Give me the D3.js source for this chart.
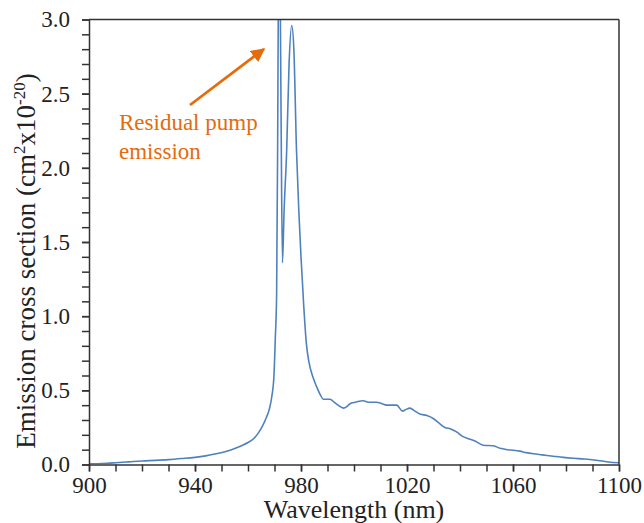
<!DOCTYPE html>
<meta charset="utf-8">
<svg width="644" height="523"></svg>
<script src="https://d3js.org/d3.v7.min.js"></script>
<script>

// wavelength (nm) and emission cross section (x10^-20 cm^2)
var wavelength = [
  900, 905, 910, 915, 920, 925, 930, 935, 940, 944, 948, 952, 955, 958, 960, 962, 964,
  965.5, 967, 968, 969, 969.8, 970.3, 970.8, 971.2, 971.5, 971.8, 972.1, 972.5, 973.0,
  973.6, 974.6, 975.5, 976.5, 977.3, 978.3, 979.2, 980, 981, 982, 983, 984.5, 986,
  987.3, 988.4, 990, 991, 992.5, 994, 996, 997.3, 998.5, 1000.5, 1003.5, 1005.4, 1007,
  1008.5, 1010.5, 1012.3, 1014.5, 1016.1, 1018.3, 1019.5, 1021.1, 1023, 1024.9, 1027.5,
  1029.9, 1032, 1034.3, 1036.5, 1038.7, 1041, 1043.8, 1046, 1048.8, 1052.6, 1055.1,
  1058, 1062.6, 1065, 1067.7, 1071, 1075.2, 1079, 1082.8, 1086, 1089, 1093, 1096, 1100
];
var crossSection = [
  0.005, 0.007, 0.012, 0.018, 0.024, 0.028, 0.033, 0.040, 0.048, 0.058, 0.072, 0.090,
  0.108, 0.130, 0.148, 0.172, 0.215, 0.26, 0.32, 0.37, 0.46, 0.60, 0.85, 1.15, 2.2, 3.3,
  3.6, 3.3, 2.3, 1.36, 1.7, 2.12, 2.7, 2.96, 2.8, 2.12, 1.7, 1.4, 1.08, 0.82, 0.69, 0.59,
  0.52, 0.47, 0.44, 0.44, 0.44, 0.42, 0.40, 0.38, 0.39, 0.41, 0.42, 0.43, 0.42, 0.42,
  0.42, 0.41, 0.40, 0.40, 0.40, 0.36, 0.37, 0.38, 0.36, 0.34, 0.33, 0.31, 0.28, 0.25,
  0.24, 0.22, 0.19, 0.17, 0.155, 0.13, 0.126, 0.11, 0.10, 0.09, 0.08, 0.072, 0.065,
  0.056, 0.048, 0.042, 0.038, 0.034, 0.025, 0.017, 0.012
];

var xMajorTicks = [900, 940, 980, 1020, 1060, 1100];
var yMajorTicks = [0, 0.5, 1.0, 1.5, 2.0, 2.5, 3.0];

d3.select("body").style("margin", "0px");
var svg = d3.select("svg").style("display", "block");
var margin = {left: 89, top: 19.5, right: 25, bottom: 58.5};
var width = 644 - margin.left - margin.right;
var height = 523 - margin.top - margin.bottom;

var x = d3.scaleLinear().domain([900, 1100]).range([0, width]);
var y = d3.scaleLinear().domain([0, 3]).range([height, 0]);

var g = svg.append("g")
    .attr("transform", "translate(" + margin.left + "," + margin.top + ")");

svg.append("defs").append("clipPath").attr("id", "plotclip")
  .append("rect").attr("width", width).attr("height", height);

var data = wavelength.map(function(w, i) { return {w: w, v: crossSection[i]}; });

var line = d3.line()
    .x(function(d) { return x(d.w); })
    .y(function(d) { return y(d.v); })
    .curve(d3.curveMonotoneX);

g.append("path")
    .datum(data)
    .attr("clip-path", "url(#plotclip)")
    .attr("fill", "none")
    .attr("stroke", "#4F81BD")
    .attr("stroke-width", 1.6)
    .attr("d", line);

// minor ticks
g.append("g")
    .attr("transform", "translate(0," + height + ")")
    .call(d3.axisBottom(x).tickValues(d3.range(900, 1101, 10)).tickSize(7).tickFormat(""))
    .call(function(a) { a.select(".domain").remove(); });
g.append("g")
    .call(d3.axisLeft(y).tickValues(d3.range(0, 31).map(function(i) { return i / 10; })).tickSize(7).tickFormat(""))
    .call(function(a) { a.select(".domain").remove(); });

// major axes with labels
var xAxis = g.append("g")
    .attr("transform", "translate(0," + height + ")")
    .call(d3.axisBottom(x).tickValues(xMajorTicks).tickFormat(d3.format("d"))
      .tickSize(7).tickSizeOuter(0).tickPadding(5));
var yAxis = g.append("g")
    .call(d3.axisLeft(y).tickValues(yMajorTicks).tickFormat(d3.format(".1f"))
      .tickSize(7).tickSizeOuter(0).tickPadding(12));

[xAxis, yAxis].forEach(function(a) {
  a.attr("font-family", "Liberation Serif").attr("font-size", 23);
  a.selectAll("text").attr("font-family", "Liberation Serif").attr("font-size", 23).attr("fill", "#222");
  a.select(".domain").attr("stroke", "#333").attr("stroke-width", 1.5);
});
g.selectAll(".tick line").attr("stroke", "#333").attr("stroke-width", 1.5);

// top and right frame
g.append("line").attr("x1", 0).attr("x2", width).attr("y1", 0).attr("y2", 0)
    .attr("stroke", "#333").attr("stroke-width", 1.5);
g.append("line").attr("x1", width).attr("x2", width).attr("y1", 0).attr("y2", height)
    .attr("stroke", "#333").attr("stroke-width", 1.5);

// axis titles
svg.append("text")
    .attr("x", margin.left + x(1000))
    .attr("y", 518)
    .attr("text-anchor", "middle")
    .attr("font-family", "Liberation Serif")
    .attr("font-size", 26)
    .attr("fill", "#222")
    .text("Wavelength (nm)");

var yt = svg.append("text")
    .attr("transform", "translate(35," + 261 + ") rotate(-90)")
    .attr("text-anchor", "middle")
    .attr("font-family", "Liberation Serif")
    .attr("font-size", 27)
    .attr("fill", "#222");
yt.append("tspan").text("Emission cross section (cm");
yt.append("tspan").attr("dy", -10).attr("font-size", 17).text("2");
yt.append("tspan").attr("dy", 10).text("x10");
yt.append("tspan").attr("dy", -10).attr("font-size", 17).text("-20");
yt.append("tspan").attr("dy", 10).text(")");

// annotation
var orange = "#E46C0A";
svg.append("defs").append("marker")
    .attr("id", "arrow")
    .attr("viewBox", "0 0 10 10")
    .attr("refX", 9).attr("refY", 5)
    .attr("markerWidth", 5).attr("markerHeight", 5)
    .attr("orient", "auto")
  .append("path")
    .attr("d", "M0,0 L10,5 L0,10 Z")
    .attr("fill", orange);

svg.append("line")
    .attr("x1", 190).attr("y1", 105)
    .attr("x2", 264).attr("y2", 49)
    .attr("stroke", orange)
    .attr("stroke-width", 2.8)
    .attr("marker-end", "url(#arrow)");

svg.append("text").attr("x", 119).attr("y", 130)
    .attr("font-family", "Liberation Serif")
    .attr("font-size", 23).attr("fill", orange).text("Residual pump");
svg.append("text").attr("x", 119).attr("y", 159)
    .attr("font-family", "Liberation Serif")
    .attr("font-size", 23).attr("fill", orange).text("emission");

</script>
